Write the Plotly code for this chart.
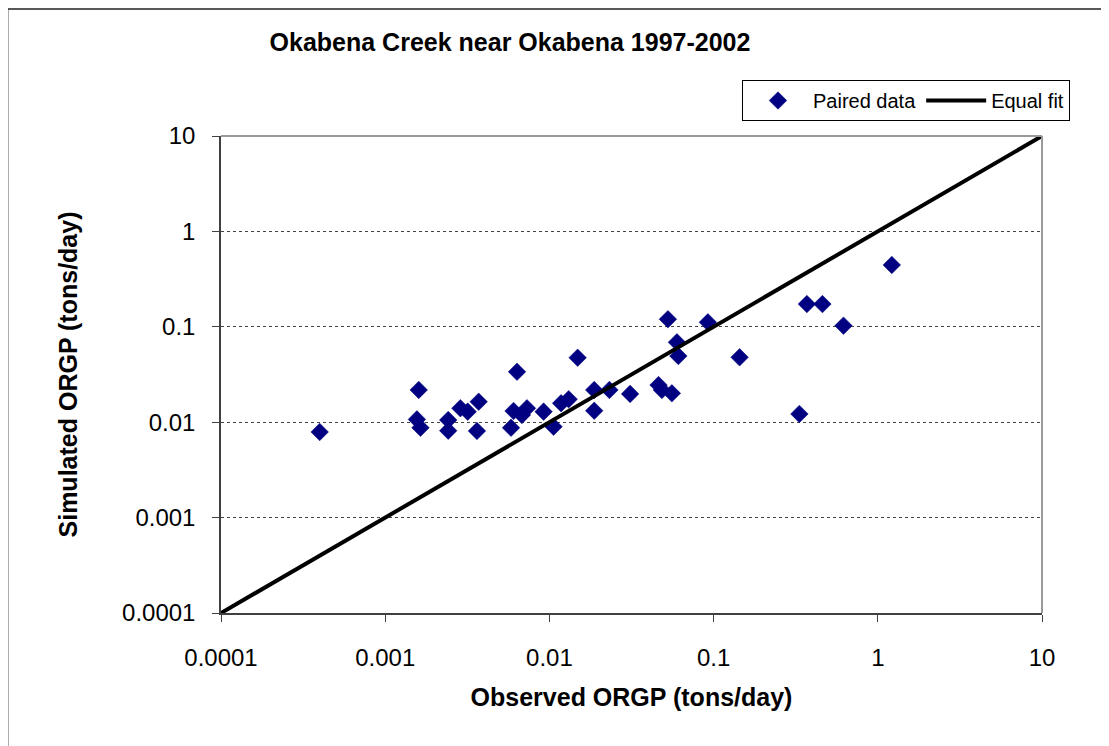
import plotly.graph_objects as go

# Observed vs simulated ORGP (tons/day)
observed = [0.000399, 0.0016, 0.00156, 0.00164, 0.00242, 0.00242, 0.00287, 0.00318,
            0.00371, 0.00362, 0.00635, 0.00584, 0.00605, 0.0068, 0.0073, 0.00922,
            0.0106, 0.01178, 0.0131, 0.01486, 0.01875, 0.01875, 0.0232, 0.031,
            0.0462, 0.0484, 0.0557, 0.0527, 0.0598, 0.061, 0.0923, 0.144,
            0.333, 0.37, 0.46, 0.618, 1.217]
simulated = [0.0079, 0.0218, 0.0107, 0.00875, 0.01054, 0.00815, 0.014, 0.0129,
             0.0164, 0.0081, 0.0338, 0.00875, 0.0131, 0.0119, 0.014, 0.0129,
             0.00897, 0.0158, 0.0174, 0.0474, 0.0218, 0.0132, 0.0218, 0.0198,
             0.0245, 0.0218, 0.0201, 0.12, 0.0687, 0.0494, 0.1114, 0.0479,
             0.0122, 0.173, 0.173, 0.1028, 0.445]
fit_x = [0.0001, 10]
fit_y = [0.0001, 10]
tick_vals = [0.0001, 0.001, 0.01, 0.1, 1, 10]
tick_text = ["0.0001", "0.001", "0.01", "0.1", "1", "10"]

FONT = "Liberation Sans, Arial, sans-serif"

fig = go.Figure()
fig.add_trace(go.Scatter(
    x=observed, y=simulated, mode="markers", name="Paired data",
    marker=dict(symbol="diamond", size=13.5, color="#000080",
                line=dict(width=0.5, color="#000080")),
))
fig.add_trace(go.Scatter(
    x=fit_x, y=fit_y, mode="lines", name="Equal fit",
    line=dict(color="black", width=4),
))

OFF = 8  # page body margin
L, R, T, B = 220.5 - OFF, 1042 - OFF, 136 - OFF, 613 - OFF
W, H = 1109 - OFF, 746 - OFF

fig.update_layout(
    width=W, height=H,
    margin=dict(l=L, r=W - R, t=T, b=H - B, autoexpand=False),
    paper_bgcolor="white", plot_bgcolor="white",
    font=dict(family=FONT, color="black"),
    title=dict(text="<b>Okabena Creek near Okabena 1997-2002</b>",
               font=dict(size=25, family=FONT, color="black"),
               x=(510 - OFF) / W, xanchor="center", y=1 - (42 - OFF) / H, yanchor="middle"),
    legend=dict(orientation="h", x=(1070 - OFF - L) / (R - L), xanchor="right",
                y=(B - (80 - OFF)) / (B - T), yanchor="top",
                bordercolor="black", borderwidth=1, bgcolor="white",
                font=dict(size=20, family=FONT, color="black"),
                itemwidth=60),
    showlegend=True,
)

fig.update_xaxes(
    type="log", range=[-4, 1], tickvals=tick_vals, ticktext=tick_text,
    showgrid=False, zeroline=False,
    showline=True, linecolor="#404040", linewidth=1.5,
    ticks="outside", ticklen=7, tickcolor="#404040", tickwidth=1,
    tickfont=dict(size=24, family=FONT, color="black"),
    ticklabelstandoff=15,
    title=dict(text="<b>Observed ORGP (tons/day)</b>",
               font=dict(size=25, family=FONT, color="black"), standoff=19),
)
fig.update_yaxes(
    type="log", range=[-4, 1], tickvals=tick_vals, ticktext=tick_text,
    showgrid=True, gridcolor="#444444", griddash="dot", gridwidth=1,
    zeroline=False,
    showline=True, linecolor="#404040", linewidth=1.5,
    ticks="outside", ticklen=7, tickcolor="#404040", tickwidth=1,
    tickfont=dict(size=24, family=FONT, color="black"),
    ticklabelstandoff=12,
    title=dict(text="<b>Simulated ORGP (tons/day)</b>",
               font=dict(size=25, family=FONT, color="black"), standoff=37),
)

# plot-area top/right border (light gray)
fig.add_shape(type="line", xref="paper", yref="paper", x0=0, x1=1, y0=1, y1=1,
              line=dict(color="#999999", width=2), layer="above")
fig.add_shape(type="line", xref="paper", yref="paper", x0=1, x1=1, y0=0, y1=1,
              line=dict(color="#999999", width=2), layer="above")
# outer chart border
fig.add_shape(type="rect", xref="paper", yref="paper",
              x0=(7 - OFF - L) / (R - L), x1=(1130 - L) / (R - L),
              y0=(B - 770) / (B - T), y1=(B - (9 - OFF)) / (B - T),
              line=dict(color="#222222", width=1.5), layer="below")

fig.write_html("out.html")
